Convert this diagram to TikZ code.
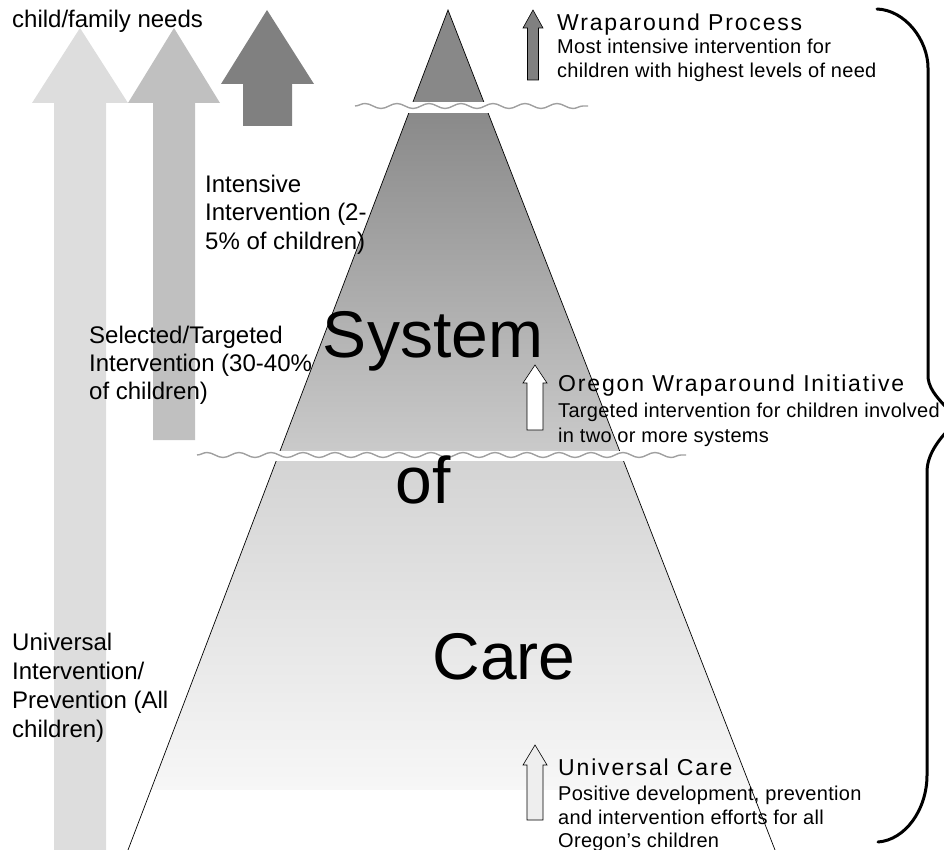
\documentclass[tikz,border=0pt]{standalone}
\usepackage{fontspec}
\setmainfont{Liberation Sans}
\usetikzlibrary{decorations.pathmorphing}
\definecolor{gA}{HTML}{DDDDDD}
\definecolor{gB}{HTML}{C0C0C0}
\definecolor{gC}{HTML}{808080}
\definecolor{triA}{HTML}{888888}
\definecolor{triB}{HTML}{CBCBCB}
\definecolor{triC}{HTML}{D3D3D3}
\definecolor{triD}{HTML}{F7F7F7}
\definecolor{wavegray}{HTML}{A0A0A0}
\definecolor{smallC}{HTML}{EEEEEE}
\begin{document}
\begin{tikzpicture}[x=1pt,y=-1pt,
  lab/.style={anchor=base west, inner sep=0pt, font=\fontsize{24}{28}\selectfont},
  ttl/.style={anchor=base west, inner sep=0pt, font=\fontsize{23}{26}\selectfont\addfontfeatures{LetterSpace=8}},
  dsc/.style={anchor=base west, inner sep=0pt, font=\fontsize{20}{24}\selectfont\addfontfeatures{LetterSpace=1.5}},
  bigword/.style={anchor=base, inner sep=0pt, font=\fontsize{66}{76}\selectfont},
  bracepath/.style={line width=3pt, line join=round, line cap=round},
  wavy/.style={draw=wavegray, line width=1.4pt, decorate, decoration={snake, amplitude=2.5pt, segment length=32pt}},
  smallarrow/.style={draw=black, line width=0.6pt}]

\useasboundingbox (0,0) rectangle (944,850);

% big arrows on the left
\fill[gA] (80,28) -- (128,103) -- (106,103) -- (106,850) -- (54,850) -- (54,103) -- (32,103) -- cycle;
\fill[gB] (174,28) -- (220,103) -- (195,103) -- (195,440) -- (153,440) -- (153,103) -- (128,103) -- cycle;
\fill[gC] (267,10) -- (314,84) -- (292,84) -- (292,126) -- (243,126) -- (243,84) -- (221,84) -- cycle;

% pyramid
\coordinate (apex) at (448,10);
\coordinate (bl) at (128,850);
\coordinate (br) at (775,850);
\begin{scope}
  \clip (apex) -- (br) -- (bl) -- cycle;
  \fill[triA] (0,0) rectangle (944,105);
  \shade[top color=triA, bottom color=triB] (0,105) rectangle (944,456);
  \shade[top color=triC, bottom color=triD] (0,456) rectangle (944,790);
  \fill[white] (0,790) rectangle (944,850);
\end{scope}
\draw[line width=0.7pt] (bl) -- (apex) -- (br);

% wavy breaks
\fill[white] (355,102) rectangle (588,113);
\draw[wavy] (355,106) -- (588,106);
\fill[white] (197,451) rectangle (686,461);
\draw[wavy] (197,455) -- (686,455);

% small arrows on the right
\filldraw[smallarrow, fill=gC] (533,10) -- (543,28) -- (538.5,28) -- (538.5,80) -- (527.5,80) -- (527.5,28) -- (523,28) -- cycle;
\filldraw[smallarrow, fill=white] (535,365) -- (547,383) -- (543,383) -- (543,430) -- (527,430) -- (527,383) -- (523,383) -- cycle;
\filldraw[smallarrow, fill=smallC] (535,745) -- (547,765) -- (543,765) -- (543,820) -- (527,820) -- (527,765) -- (523,765) -- cycle;

% braces
\draw[bracepath] (877,9) .. controls (905,10) and (928,40) .. (928,68) -- (928,378) .. controls (930,392) and (940,400) .. (952,414);
\draw[bracepath] (952,426) .. controls (938,440) and (927,455) .. (927,472) -- (927,775) .. controls (927,810) and (905,840) .. (878,842);

% left labels
\node[lab] (needs) at (12,28) {child/family needs};
\node[lab] (int1) at (205,193) {Intensive};
\node[lab] (int2) at (205,221) {Intervention (2-};
\node[lab] (int3) at (205,249) {5\% of children)};
\node[lab] (sel1) at (89,343) {Selected/Targeted};
\node[lab] (sel2) at (89,371) {Intervention (30-40\%};
\node[lab] (sel3) at (89,399) {of children)};
\node[lab] (uni1) at (12,650) {Universal};
\node[lab] (uni2) at (12,679) {Intervention/};
\node[lab] (uni3) at (12,708) {Prevention (All};
\node[lab] (uni4) at (12,737) {children)};

% big words
\node[bigword] (system) at (433,357) {System};
\node[bigword] (of) at (423,503) {of};
\node[bigword] (care) at (504,679) {Care};

% right texts
\node[ttl] (wrapT) at (557,31) {Wraparound Process};
\node[dsc] (wrap1) at (557,54) {Most intensive intervention for};
\node[dsc] (wrap2) at (557,78) {children with highest levels of need};
\node[ttl] (oregT) at (558,391) {Oregon Wraparound Initiative};
\node[dsc] (oreg1) at (558,417) {Targeted intervention for children involved};
\node[dsc] (oreg2) at (558,442) {in two or more systems};
\node[ttl] (univT) at (558,775) {Universal Care};
\node[dsc] (univ1) at (558,800) {Positive development, prevention};
\node[dsc] (univ2) at (558,824) {and intervention efforts for all};
\node[dsc] (univ3) at (558,847) {Oregon’s children};
\end{tikzpicture}
\end{document}
